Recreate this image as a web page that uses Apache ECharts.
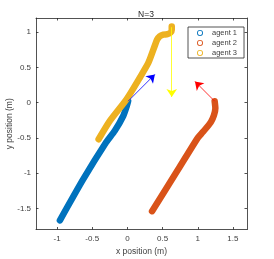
<!DOCTYPE html>
<html>
<head>
<meta charset="utf-8">
<script src="https://cdn.jsdelivr.net/npm/echarts@6/dist/echarts.min.js"></script>
<style>
html,body{margin:0;padding:0;background:#fff;}
#c{width:274px;height:259px;}
</style>
</head>
<body>
<div id="c"></div>
<script>
var titleText = 'N=3';
var seriesNames = ['agent 1', 'agent 2', 'agent 3'];
var seriesColors = ['#0072BD', '#D95319', '#EDB120'];
var xTicks = [-1, -0.5, 0, 0.5, 1, 1.5];
var yTicks = [-1.5, -1, -0.5, 0, 0.5, 1];

var agent1X = [-0.96, -0.63, -0.30, -0.18, -0.06, -0.01, 0.01];
var agent1Y = [-1.67, -1.09, -0.56, -0.40, -0.19, -0.05, 0.02];

var agent2X = [0.35, 0.72, 1.00, 1.07, 1.13, 1.19, 1.23, 1.25, 1.24];
var agent2Y = [-1.54, -0.95, -0.50, -0.42, -0.35, -0.27, -0.18, -0.08, 0.02];

var agent3X = [-0.41, -0.25, -0.01, 0.18, 0.30, 0.39, 0.42, 0.46, 0.51, 0.57, 0.61, 0.63, 0.63];
var agent3Y = [-0.52, -0.26, 0.05, 0.36, 0.57, 0.81, 0.89, 0.94, 0.965, 0.97, 0.99, 1.03, 1.08];

// arrows: start and end points
var arrowStartX = [0.01, 1.24, 0.63];
var arrowStartY = [0.02, 0.02, 1.07];
var arrowEndX = [0.39, 0.96, 0.63];
var arrowEndY = [0.40, 0.30, 0.08];
var arrowColors = ['#0000FF', '#FF0000', '#FFFF00'];

function zip(xs, ys){ return xs.map(function(x,i){ return [x, ys[i]]; }); }

var agents = [zip(agent1X, agent1Y), zip(agent2X, agent2Y), zip(agent3X, agent3Y)];

var FONT = 'Liberation Sans, Arial, sans-serif';
var TXT = '#404040';
var AX = '#262626';
var RING = 'path://M10,0A10,10,0,1,1,10,20A10,10,0,1,1,10,0ZM10,2.8A7.2,7.2,0,1,0,10,17.2A7.2,7.2,0,1,0,10,2.8Z';

var series = [];
agents.forEach(function(d, i){
  series.push({
    name: seriesNames[i], type: 'line', data: d, showSymbol: false,
    smooth: 0.2,
    color: seriesColors[i],
    lineStyle: {width: 6.5, color: seriesColors[i], cap: 'round', join: 'round'},
    z: 2 + i,
    animation: false
  });
});
arrowStartX.forEach(function(x0, i){
  series.push({
    type: 'lines', coordinateSystem: 'cartesian2d',
    symbol: ['none', 'arrow'], symbolSize: [6, 8],
    lineStyle: {color: arrowColors[i], width: 0.8, opacity: 1},
    data: [{coords: [[x0, arrowStartY[i]], [arrowEndX[i], arrowEndY[i]]]}],
    z: 10, silent: true, animation: false
  });
});

function axisCommon(pos, ticks, showLabel, mn, mx, name){
  return {
    type: 'value', position: pos, min: mn, max: mx,
    name: name || '', nameLocation: 'middle',
    nameGap: pos === 'left' ? 22 : 18,
    nameMoveOverlap: false,
    nameTextStyle: {color: TXT, fontSize: 8.5, fontFamily: FONT},
    axisLine: {show: true, onZero: false, lineStyle: {color: AX, width: 0.8}},
    axisTick: {show: true, inside: true, length: 2.5, customValues: ticks, lineStyle: {color: AX, width: 0.8}},
    axisLabel: {show: showLabel, customValues: ticks, color: TXT, fontSize: 8, fontFamily: FONT, margin: 5},
    splitLine: {show: false}
  };
}

var chart = echarts.init(document.getElementById('c'), null, {renderer: 'canvas'});
chart.setOption({
  backgroundColor: '#fff',
  animation: false,
  title: {text: titleText, left: 141, textAlign: 'center', top: 5,
    textStyle: {fontSize: 8.5, fontWeight: 'normal', color: AX, fontFamily: FONT}},
  grid: {left: 36, right: 27, top: 18, bottom: 29.5, containLabel: false, outerBoundsMode: 'none'},
  legend: {
    orient: 'vertical', left: 188, top: 27,
    data: seriesNames.map(function(n){ return {name: n, icon: RING}; }),
    itemWidth: 6, itemHeight: 6, itemGap: 2,
    padding: [2, 7, 1, 9],
    borderColor: AX, borderWidth: 0.8,
    backgroundColor: '#fff',
    textStyle: {fontSize: 7.5, color: TXT, fontFamily: FONT, padding: [0, 0, 0, 4]},
    selectedMode: false
  },
  xAxis: [axisCommon('bottom', xTicks, true, -1.3, 1.7, 'x position (m)'), axisCommon('top', xTicks, false, -1.3, 1.7)],
  yAxis: [axisCommon('left', yTicks, true, -1.8, 1.2, 'y position (m)'), axisCommon('right', yTicks, false, -1.8, 1.2)],
  series: series
});
</script>
</body>
</html>
